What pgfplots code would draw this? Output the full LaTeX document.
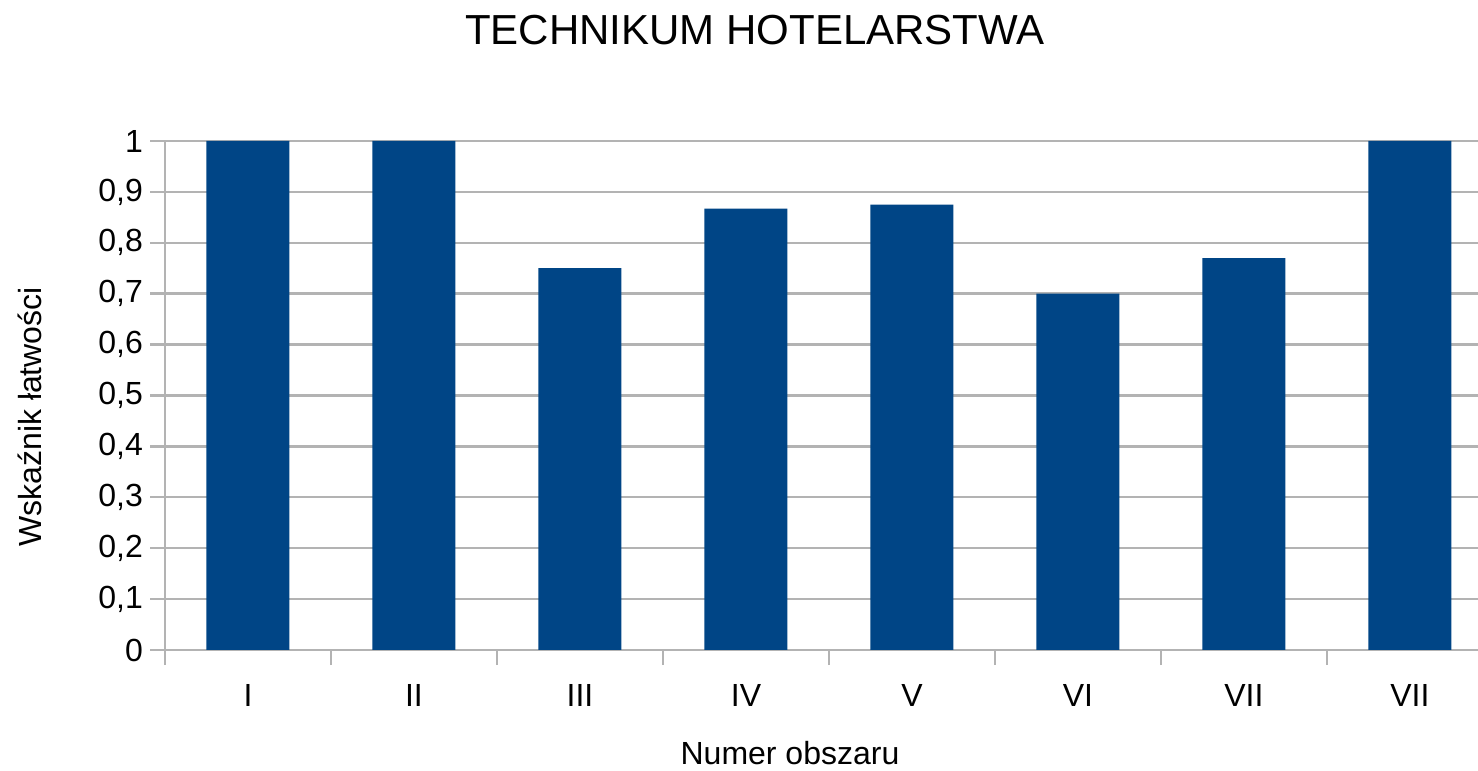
\documentclass[border=0pt]{standalone}
\usepackage{pgfplots}
\pgfplotsset{compat=1.18}
\usepackage{fontspec}
\setmainfont{Liberation Sans}
\definecolor{barblue}{HTML}{004586}
\definecolor{gridgray}{HTML}{B3B3B3}
\begin{document}
\begin{tikzpicture}[x=1pt,y=1pt]
\useasboundingbox (0,0) rectangle (739,385.5);
\begin{axis}[
  at={(82.5pt,60.5pt)}, anchor=south west,
  scale only axis, width=656.5pt, height=254.5pt,
  xmin=-0.5, xmax=7.41, ymin=0, ymax=1,
  axis lines*=left,
  axis line style={gridgray, line width=1.2pt},
  ymajorgrids, grid style={gridgray, line width=1.2pt},
  tick align=outside,
  major tick length=7.5pt, minor tick length=7.5pt,
  ytick={0,0.1,...,1.01},
  ytick style={gridgray, line width=1.2pt},
  major x tick style={draw=none},
  minor x tick style={gridgray, line width=1.2pt},
  xtick={0,...,7},
  xticklabels={I,II,III,IV,V,VI,VII,VII},
  minor xtick={-0.5,0.5,...,6.6},
  /pgf/number format/assume math mode=true,
  /pgf/number format/use comma,
  /pgf/number format/fixed,
  /pgf/number format/precision=1,
  tick label style={font=\fontsize{16}{19}\selectfont, text=black},
  xticklabel style={yshift=-6pt},
  label style={font=\fontsize{16}{19}\selectfont, text=black},
  xlabel={Numer obszaru},
  ylabel={Wskaźnik łatwości},
  xlabel style={at={(axis description cs:0.476,-0.203)}, anchor=center, inner sep=0pt},
  ylabel style={at={(axis description cs:-0.1028,0.458)}, anchor=center, rotate=0},
  clip=false,
]
\addplot[ybar, bar width=0.5, fill=barblue, draw=none] coordinates {
  (0,1) (1,1) (2,0.75) (3,0.867) (4,0.875) (5,0.70) (6,0.77) (7,1)
};
\end{axis}
\node[font=\fontsize{21}{25}\selectfont, text=black] at (377.5,370.25) {TECHNIKUM HOTELARSTWA};
\end{tikzpicture}
\end{document}
